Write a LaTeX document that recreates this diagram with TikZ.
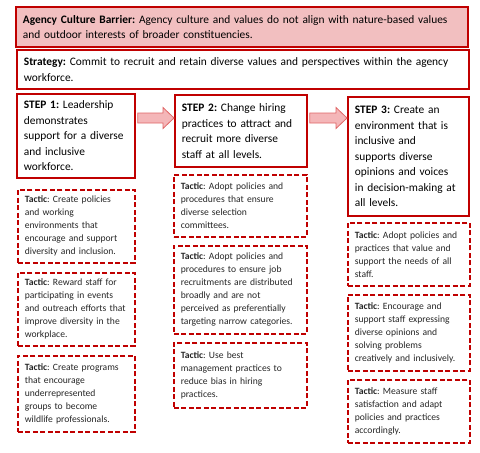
\documentclass[tikz,border=0pt]{standalone}
\usepackage{fontspec}
\setmainfont{Carlito}
\frenchspacing
\usetikzlibrary{calc}
\definecolor{barred}{HTML}{C00000}
\definecolor{barpink}{HTML}{F2BFC0}
\definecolor{arrowpink}{HTML}{F4B6B8}
\definecolor{arrowline}{HTML}{E06666}
\begin{document}
\begin{tikzpicture}[x=1pt,y=-1pt,
  solidbox/.style={draw=barred,line width=1.8pt,anchor=north west,align=left,inner xsep=7pt,
    font=\fontsize{11.4}{15.5}\selectfont},
  tacticbox/.style={draw=barred,line width=1.6pt,dash pattern=on 5pt off 2.5pt,anchor=north west,
    align=left,inner xsep=7pt,text=black!85,font=\fontsize{9.6}{13}\selectfont},
  blockarrow/.style={fill=arrowpink,draw=arrowline,line width=0.8pt}]
\useasboundingbox (0,0) rectangle (480,453);
% barrier and strategy
\node[solidbox,fill=barpink,minimum width=452pt,text width=438pt,minimum height=40pt] (barrier) at (15,6)
  {\textbf{Agency Culture Barrier:} Agency culture and values do not align with nature-based values\\
   and outdoor interests of broader constituencies.};
\node[solidbox,minimum width=452pt,text width=438pt,minimum height=39pt] (strategy) at (16,49)
  {\textbf{Strategy:} Commit to recruit and retain diverse values and perspectives within the agency\\
   workforce.};
% steps
\node[solidbox,minimum width=118pt,text width=104pt,minimum height=84pt] (s1) at (16,93)
  {\textbf{STEP 1:} Leadership\\ demonstrates\\ support for a diverse\\ and inclusive\\ workforce.};
\node[solidbox,minimum width=132pt,text width=118pt,minimum height=72pt] (s2) at (174,94)
  {\textbf{STEP 2:} Change hiring\\ practices to attract and\\ recruit more diverse\\ staff at all levels.};
\node[solidbox,minimum width=121pt,text width=107pt,minimum height=119pt] (s3) at (347,96)
  {\textbf{STEP 3:} Create an\\ environment that is\\ inclusive and\\ supports diverse\\ opinions and voices\\ in decision-making at\\ all levels.};
% arrows between steps
\foreach \a/\b in {s1/s2,s2/s3}{
  \path ([xshift=2pt]\a.east |- 0,118) coordinate (p) (\b.west |- p) coordinate (q);
  \draw[blockarrow] ($(p)+(0,-5)$) -- ($(q)+(-11,-5)$) -- ($(q)+(-11,-10.5)$) -- (q)
    -- ($(q)+(-11,10.5)$) -- ($(q)+(-11,5)$) -- ($(p)+(0,5)$) -- cycle;
}
% tactics, step 1
\node[tacticbox,minimum width=117pt,text width=103pt,minimum height=73pt] (t11) at (17,189)
  {\textbf{Tactic}: Create policies\\ and working\\ environments that\\ encourage and support\\ diversity and inclusion.};
\node[tacticbox,minimum width=117pt,text width=103pt,minimum height=73pt] (t12) at (17,272)
  {\textbf{Tactic}: Reward staff for\\ participating in events\\ and outreach efforts that\\ improve diversity in the\\ workplace.};
\node[tacticbox,minimum width=117pt,text width=103pt,minimum height=76pt] (t13) at (17,355)
  {\textbf{Tactic}: Create programs\\ that encourage\\ underrepresented\\ groups to become\\ wildlife professionals.};
% tactics, step 2
\node[tacticbox,minimum width=133pt,text width=119pt,minimum height=62pt] (t21) at (173,174)
  {\textbf{Tactic}: Adopt policies and\\ procedures that ensure\\ diverse selection\\ committees.};
\node[tacticbox,minimum width=133pt,text width=119pt,minimum height=88pt] (t22) at (173,245)
  {\textbf{Tactic}: Adopt policies and\\ procedures to ensure job\\ recruitments are distributed\\ broadly and are not\\ perceived as preferentially\\ targeting narrow categories.};
\node[tacticbox,minimum width=133pt,text width=119pt,minimum height=65pt] (t23) at (173,342)
  {\textbf{Tactic}: Use best\\ management practices to\\ reduce bias in hiring\\ practices.};
% tactics, step 3
\node[tacticbox,minimum width=122pt,text width=108pt,minimum height=63pt] (t31) at (347,222)
  {\textbf{Tactic}: Adopt policies and\\ practices that value and\\ support the needs of all\\ staff.};
\node[tacticbox,minimum width=122pt,text width=108pt,minimum height=76pt] (t32) at (347,294)
  {\textbf{Tactic}: Encourage and\\ support staff expressing\\ diverse opinions and\\ solving problems\\ creatively and inclusively.};
\node[tacticbox,minimum width=122pt,text width=108pt,minimum height=63pt] (t33) at (347,379)
  {\textbf{Tactic}: Measure staff\\ satisfaction and adapt\\ policies and practices\\ accordingly.};
\end{tikzpicture}
\end{document}
